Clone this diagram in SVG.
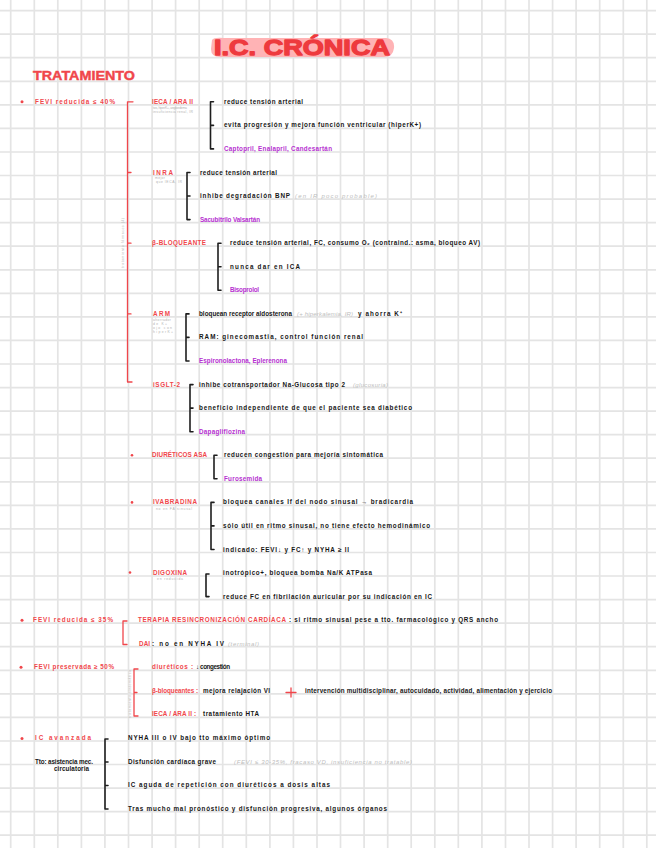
<svg xmlns="http://www.w3.org/2000/svg" width="656" height="848" viewBox="0 0 656 848">
<style>
.grid{stroke:#e4e4e4;stroke-width:1.7;fill:none}
.k{fill:#161616;font-family:"Liberation Sans",Arial,sans-serif;font-weight:bold;font-size:6.3px}
.r{fill:#f0464b;font-family:"Liberation Sans",Arial,sans-serif;font-weight:bold;font-size:6.3px}
.p{fill:#b52fd0;font-family:"Liberation Sans",Arial,sans-serif;font-weight:bold;font-size:6.3px}
.s{fill:#b3b3b3;font-family:"Liberation Sans",Arial,sans-serif;font-size:3.4px}
.gi{fill:#bdbdbd;font-family:"Liberation Sans",Arial,sans-serif;font-style:italic;font-size:6px}
.bk{stroke:#1e1e1e;stroke-width:1.6;fill:none;stroke-linecap:round;stroke-linejoin:round}
.br{stroke:#f0464b;stroke-width:1.3;fill:none;stroke-linecap:round;stroke-linejoin:round}
.dot{fill:#f0464b}
</style>
<rect width="656" height="848" fill="#ffffff"/>
<path class="grid" d="M10.7 0V848M34.3 0V848M57.8 0V848M81.4 0V848M104.9 0V848M128.5 0V848M152.1 0V848M175.6 0V848M199.2 0V848M222.7 0V848M246.3 0V848M269.9 0V848M293.4 0V848M317 0V848M340.5 0V848M364.1 0V848M387.7 0V848M411.2 0V848M434.8 0V848M458.3 0V848M481.9 0V848M505.5 0V848M529 0V848M552.6 0V848M576.1 0V848M599.7 0V848M623.3 0V848M646.8 0V848M0 10.6H656M0 34.2H656M0 57.7H656M0 81.3H656M0 104.8H656M0 128.4H656M0 152H656M0 175.5H656M0 199.1H656M0 222.6H656M0 246.2H656M0 269.8H656M0 293.3H656M0 316.9H656M0 340.4H656M0 364H656M0 387.6H656M0 411.1H656M0 434.7H656M0 458.2H656M0 481.8H656M0 505.4H656M0 528.9H656M0 552.5H656M0 576H656M0 599.6H656M0 623.2H656M0 646.7H656M0 670.3H656M0 693.8H656M0 717.4H656M0 741H656M0 764.5H656M0 788.1H656M0 811.6H656M0 835.2H656"/>

<g id="title">
<path d="M212 40Q214 37 224 38L386 38Q395 39 394 48Q393 57 384 57L220 57Q211 57 211 49Z" fill="#ffb3b5"/>
<text x="214" y="54.5" fill="#ee3a3e" stroke="#ee3a3e" stroke-width="1.3" stroke-linejoin="round" font-family="'Liberation Sans',Arial,sans-serif" font-weight="bold" font-size="22" textLength="176" lengthAdjust="spacingAndGlyphs">I.C. CRÓNICA</text>
</g>
<g id="tratamiento">
<text x="33" y="79.5" fill="#f0464b" stroke="#f0464b" stroke-width="0.4" font-family="'Liberation Sans',Arial,sans-serif" font-weight="bold" font-size="12" textLength="102" lengthAdjust="spacingAndGlyphs">TRATAMIENTO</text>
</g>

<g id="connectors">
<path class="br" d="M127.5 101.8V382H132M127.5 101.8H133M127.5 172.5H131M127.5 243.2H131M127.5 313.9H131"/>
<path class="bk" d="M213.5 101.8H210.5V148.9H213.5M210.5 125.4H213.5"/>
<path class="bk" d="M190 172.5H187V219.6H190M187 196H190"/>
<path class="bk" d="M221 243.2H218V290.3H221M218 266.8H221"/>
<path class="bk" d="M189 313.9H186V361H189M186 337.4H189"/>
<path class="bk" d="M193 384.6H190V431.7H193M190 408.1H193"/>
<path class="bk" d="M217 455.2H214V478.8H217"/>
<path class="bk" d="M214 502.4H211V549.5H214M211 525.9H214"/>
<path class="bk" d="M209 574H206V596.6H209"/>
<path class="br" d="M127 621H123V644.5H127"/>
<path class="br" d="M138 669H134V716H138M134 692.5H137"/>
<path class="bk" d="M108 739H105V809H108M105 762H108M105 785.5H108"/>
</g>

<g id="fevi-reducida-40">
<circle class="dot" cx="22" cy="101.8" r="1.5"/>
<text class="r" x="35" y="103.8" textLength="80">FEVI  reducida  ≤ 40%</text>
<text class="s" transform="translate(123.5 268) rotate(-90)" textLength="50">tratamiento fármacos (4)</text>
</g>

<g id="ieca-ara">
<text class="r" x="152" y="103.8" textLength="41">IECA / ARA II</text>
<text class="s" x="153" y="109" textLength="34">tos, hiperK+, angioedema</text>
<text class="s" x="153" y="113" textLength="40">insuficiencia renal, IR</text>
<text class="k" x="224" y="103.8" textLength="79">reduce tensión arterial</text>
<text class="k" x="224" y="127.4" textLength="197">evita progresión y mejora función ventricular (hiperK+)</text>
<text class="p" x="224" y="150.9" textLength="108">Captopril, Enalapril, Candesartán</text>
</g>

<g id="inra">
<text class="r" x="153" y="174.5" textLength="20">INRA</text>
<text class="s" x="155" y="178.5" textLength="10">mejor</text>
<text class="s" x="156" y="182.5" textLength="26">que IECA, IR</text>
<text class="k" x="200" y="174.5" textLength="77">reduce tensión arterial</text>
<text class="k" x="200" y="198" textLength="90">inhibe degradación BNP</text>
<text class="gi" x="295" y="198" textLength="82">(en IR poco probable)</text>
<text class="p" x="200" y="221.6" textLength="60">Sacubitrilo Valsartán</text>
</g>

<g id="beta-bloqueante">
<text class="r" x="152" y="245.2" textLength="54">β-BLOQUEANTE</text>
<text class="k" x="230" y="245.2" textLength="250">reduce tensión arterial, FC, consumo O₂ (contraind.: asma, bloqueo AV)</text>
<text class="k" x="230" y="268.8" textLength="70">nunca dar en ICA</text>
<text class="p" x="230" y="292.3" textLength="29">Bisoprolol</text>
</g>

<g id="arm">
<text class="r" x="153" y="315.9" textLength="17">ARM</text>
<text class="s" x="153" y="321" textLength="18">ahorrador</text>
<text class="s" x="153" y="325" textLength="14">de K+</text>
<text class="s" x="153" y="329" textLength="19">ojo con</text>
<text class="s" x="153" y="333" textLength="20">hiperK+</text>
<text class="k" x="199" y="315.9" textLength="93">bloquean receptor aldosterona</text>
<text class="gi" x="297" y="315.9" textLength="56">(+ hiperkalemia, IR)</text>
<text class="k" x="358" y="315.9" textLength="44">y ahorra K⁺</text>
<text class="k" x="199" y="339.4" textLength="164">RAM: ginecomastia, control función renal</text>
<text class="p" x="199" y="363" textLength="88">Espironolactona, Eplerenona</text>
</g>

<g id="isglt2">
<text class="r" x="153" y="386.6" textLength="27">iSGLT-2</text>
<text class="k" x="199" y="386.6" textLength="146">inhibe cotransportador Na-Glucosa tipo 2</text>
<text class="gi" x="353" y="386.6" textLength="35">(glucosuria)</text>
<text class="k" x="199" y="410.1" textLength="213">beneficio independiente de que el paciente sea diabético</text>
<text class="p" x="199" y="433.7" textLength="46">Dapagliflozina</text>
</g>

<g id="diureticos-asa">
<circle class="dot" cx="132" cy="455.2" r="1.3"/>
<text class="r" x="152" y="457.2" textLength="55">DIURÉTICOS  ASA</text>
<text class="k" x="224" y="457.2" textLength="159">reducen congestión para mejoría sintomática</text>
<text class="p" x="224" y="480.8" textLength="38">Furosemida</text>
</g>

<g id="ivabradina">
<circle class="dot" cx="132" cy="502.4" r="1.3"/>
<text class="r" x="153" y="504.4" textLength="44">IVABRADINA</text>
<text class="s" x="156" y="509.5" textLength="36">no en FA   sinusal</text>
<text class="k" x="223" y="504.4" textLength="190">bloquea canales If del nodo sinusal → bradicardia</text>
<text class="k" x="223" y="527.9" textLength="207">sólo útil en ritmo sinusal, no tiene efecto hemodinámico</text>
<text class="k" x="223" y="551.5" textLength="126">indicado:  FEVI↓ y FC↑  y  NYHA ≥ II</text>
</g>

<g id="digoxina">
<circle class="dot" cx="130" cy="572.5" r="1.3"/>
<text class="r" x="153" y="575" textLength="34">DIGOXINA</text>
<text class="s" x="157" y="580" textLength="26">en   reducida</text>
<text class="k" x="223" y="575" textLength="149">inotrópico+, bloquea bomba Na/K ATPasa</text>
<text class="k" x="223" y="598.6" textLength="209">reduce FC en fibrilación auricular por su indicación en IC</text>
</g>

<g id="fevi-reducida-35">
<circle class="dot" cx="22" cy="620.2" r="1.5"/>
<text class="r" x="33" y="622.2" textLength="80">FEVI  reducida  ≤ 35%</text>
<text class="r" x="138" y="622.2" textLength="148">TERAPIA  RESINCRONIZACIÓN  CARDÍACA</text>
<text class="k" x="289" y="622.2" textLength="209">: si ritmo sinusal pese a tto. farmacológico y QRS ancho</text>
<text class="r" x="139" y="645.7" textLength="11">DAI</text>
<text class="k" x="152" y="645.7" textLength="72">: no en  NYHA IV</text>
<text class="gi" x="228" y="645.7" textLength="31">(terminal)</text>
</g>

<g id="fevi-preservada">
<circle class="dot" cx="21" cy="667.3" r="1.5"/>
<text class="r" x="34" y="669.3" textLength="80">FEVI  preservada  ≥ 50%</text>
<text class="s" transform="translate(130.5 718) rotate(-90)" textLength="48">tratamiento sintomático</text>
<text class="r" x="152" y="669.3" textLength="41">diuréticos :</text>
<text class="k" x="196" y="669.3" textLength="34">↓ congestión</text>
<text class="r" x="152" y="692.8" textLength="46">β-bloqueantes :</text>
<text class="k" x="203" y="692.8" textLength="67">mejora relajación VI</text>
<path class="br" d="M286 692.5H296M291 688V697"/>
<text class="k" x="305" y="692.8" textLength="247">intervención multidisciplinar, autocuidado, actividad, alimentación y ejercicio</text>
<text class="r" x="152" y="716.4" textLength="44">IECA / ARA II :</text>
<text class="k" x="203" y="716.4" textLength="56">tratamiento  HTA</text>
</g>

<g id="ic-avanzada">
<circle class="dot" cx="22" cy="738.5" r="1.5"/>
<text class="r" x="35" y="740" textLength="56">IC  avanzada</text>
<text class="k" x="35" y="763.5" textLength="58">Tto: asistencia mec.</text>
<text class="k" x="54" y="770.5" textLength="35">circulatoria</text>
<text class="k" x="128" y="740" textLength="142">NYHA III o IV bajo tto máximo óptimo</text>
<text class="k" x="128" y="763.5" textLength="88">Disfunción cardíaca grave</text>
<text class="gi" x="234" y="763.5" textLength="178">(FEVI ≤ 30-35%, fracaso VD, insuficiencia no tratable)</text>
<text class="k" x="128" y="787.1" textLength="202">IC aguda de repetición con diuréticos a dosis altas</text>
<text class="k" x="128" y="810.7" textLength="259">Tras mucho mal pronóstico y disfunción progresiva, algunos órganos</text>
</g>
</svg>
